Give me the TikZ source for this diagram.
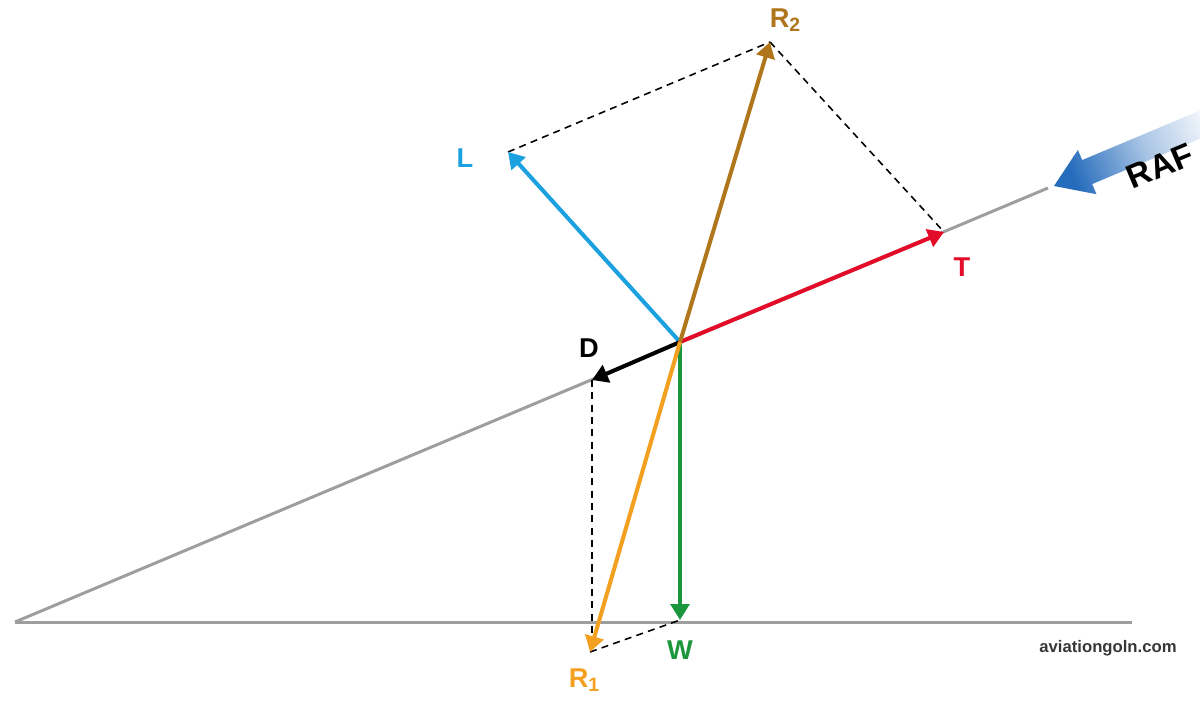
\documentclass[tikz,border=0pt]{standalone}
\usepackage{fontspec}
\setmainfont{Liberation Sans}
\usetikzlibrary{arrows.meta}
\definecolor{Lblue}{RGB}{27,160,224}
\definecolor{Tred}{RGB}{226,12,40}
\definecolor{Rbrown}{RGB}{176,118,28}
\definecolor{Rorange}{RGB}{243,160,32}
\definecolor{Wgreen}{RGB}{28,150,60}
\definecolor{lineg}{RGB}{158,158,158}
\definecolor{rafblue}{RGB}{38,108,188}
\definecolor{wm}{RGB}{55,55,55}
\tikzset{
  force/.style={line width=2.3pt,-{Triangle[length=9pt,width=10.5pt]}},
  ground/.style={lineg,line width=1.7pt},
  helper/.style={black,line width=0.9pt,dash pattern=on 4pt off 3pt},
  lab/.style={font=\bfseries\fontsize{15.5}{15.5}\selectfont,inner sep=0pt}
}
\begin{document}
\begin{tikzpicture}[x=0.02cm,y=-0.02cm]
\useasboundingbox (0,0) rectangle (1200,700);
\clip (0,0) rectangle (1200,700);
% key points
\coordinate (A) at (15,622);
\coordinate (S) at (1048,188);
\coordinate (G) at (1132,622);
\coordinate (O) at (680,342);
\coordinate (Tt) at (944,232);
\coordinate (Dt) at (592,380);
\coordinate (Lt) at (508,152);
\coordinate (R2t) at (770,42);
\coordinate (Wt) at (680,620);
\coordinate (R1t) at (590,652);
% slope and ground
\draw[ground] (A) -- (S);
\draw[ground] (A) -- (G);
% dashed construction
\draw[helper] (Lt) -- (R2t);
\draw[helper] (R2t) -- (Tt);
\draw[helper] (Dt) -- (Dt |- R1t);
\draw[helper] (R1t) -- (Wt);
% forces
\draw[force,Lblue] (O) -- (Lt);
\draw[force,Tred] (O) -- (Tt);
\draw[force,black] (O) -- (Dt);
\draw[force,Wgreen] (O) -- (Wt);
\draw[force,Rorange] (O) -- (R1t);
\draw[force,Rbrown] (O) -- (R2t);
% labels
\node[lab,text=Rbrown] (lR2) at (785,20) {R\raisebox{-0.3ex}{\fontsize{11}{11}\selectfont 2}};
\node[lab,text=Lblue] (lL) at (465,158) {L};
\node[lab,text=Tred] (lT) at (962,267) {T};
\node[lab,text=black] (lD) at (589,348) {D};
\node[lab,text=Wgreen] (lW) at (680,650) {W};
\node[lab,text=Rorange] (lR1) at (584,680) {R\raisebox{-0.3ex}{\fontsize{11}{11}\selectfont 1}};
% relative airflow arrow
\shade[left color=rafblue, right color=white, middle color=rafblue!40!white, shading angle=112.8]
  (1054,186) -- (1096.5,194.2) -- (1092.2,184.05) -- (1234.2,124.4)
  -- (1224.2,100.4) -- (1082.2,160.05) -- (1077.9,149.9) -- cycle;
\node[lab,text=black,rotate=22.8,font=\bfseries\fontsize{19}{19}\selectfont] (lRAF) at (1160,166) {RAF};
% watermark
\node[inner sep=0pt,text=wm,font=\bfseries\fontsize{9.5}{10}\selectfont] (wmk) at (1108,648) {aviationgoln.com};
\end{tikzpicture}
\end{document}
